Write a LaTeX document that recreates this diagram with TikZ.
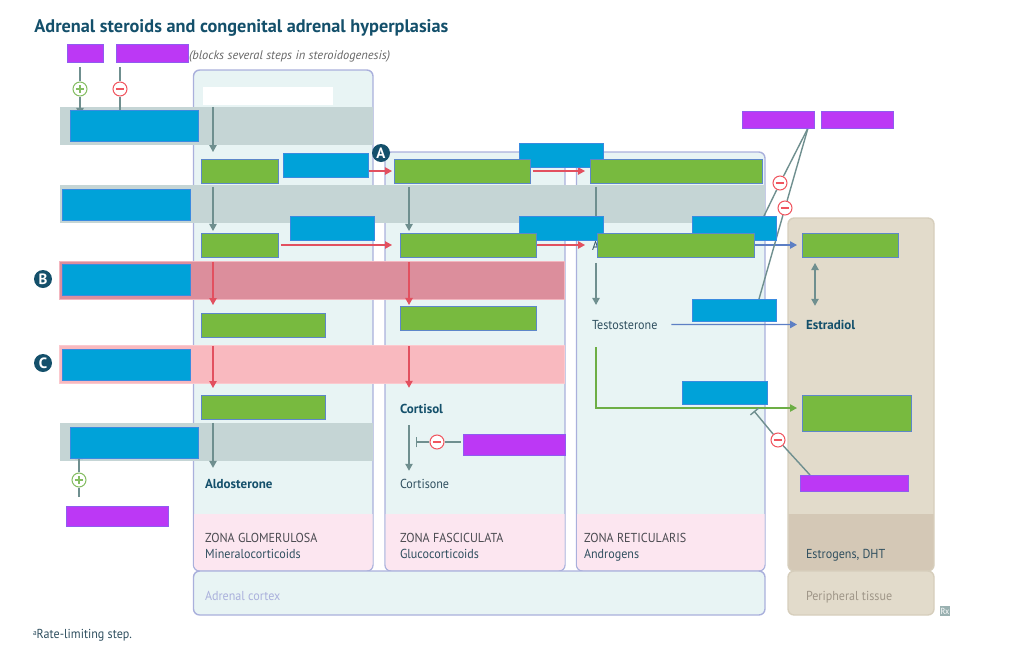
\documentclass[tikz,border=0pt]{standalone}
\usepackage{fontspec}
\setmainfont[UprightFeatures={FakeStretch=0.93}]{PT Sans}
\usetikzlibrary{arrows.meta}

\definecolor{panelfill}{HTML}{E8F4F4}
\definecolor{panelline}{HTML}{AAB0DC}
\definecolor{pinkfill}{HTML}{FCE6F0}
\definecolor{tissuefill}{HTML}{E2DBCB}
\definecolor{tissuedark}{HTML}{D4C8B6}
\definecolor{tissueline}{HTML}{D6CEBC}
\definecolor{greyband}{HTML}{C5D5D5}
\definecolor{redband}{HTML}{DC8E9C}
\definecolor{redbandline}{HTML}{F3B6BF}
\definecolor{pinkband}{HTML}{F9B9BF}
\definecolor{pinkbandline}{HTML}{FBC9CE}
\definecolor{bluefill}{HTML}{00A2D9}
\definecolor{blueline}{HTML}{3A8BE0}
\definecolor{greenfill}{HTML}{78BA3F}
\definecolor{greenline}{HTML}{5D87C9}
\definecolor{purplefill}{HTML}{BC38F5}
\definecolor{purpleline}{HTML}{8F5CF0}
\definecolor{darkteal}{HTML}{14506B}
\definecolor{linegrey}{HTML}{6F8F8F}
\definecolor{linered}{HTML}{E2505F}
\definecolor{lineblue}{HTML}{5D7FC4}
\definecolor{linegreen}{HTML}{6DAE45}
\definecolor{signred}{HTML}{F0555F}
\definecolor{signgreen}{HTML}{84BD62}
\definecolor{textdark}{HTML}{2F4F5F}
\definecolor{textzone}{HTML}{4A4A50}

\pgfdeclarelayer{back}
\pgfdeclarelayer{mid}
\pgfsetlayers{back,mid,main}

\tikzset{
	boxsize/.style 2 args={minimum width=#1*0.02cm,minimum height=#2*0.02cm},
	gap/.style 2 args={shorten <=#1*0.567pt,shorten >=#2*0.567pt},
	plainbox/.style={rectangle,anchor=north west,inner sep=0pt,outer sep=0pt,line width=0.4pt},
	greenbox/.style={plainbox,fill=greenfill,draw=greenline},
	bluebox/.style={plainbox,fill=bluefill,draw=blueline},
	purplebox/.style={plainbox,fill=purplefill,draw=purpleline},
	txt/.style={anchor=base west,inner sep=0pt,outer sep=0pt,font=\fontsize{7.4}{9}\selectfont,text=textdark},
	txtbold/.style={txt,font=\fontsize{7.4}{9}\selectfont\bfseries,text=darkteal},
	zone/.style={txt,text=textzone},
	badge/.style={circle,fill=darkteal,text=white,inner sep=0pt,minimum size=18*0.02cm,font=\fontsize{8.5}{9}\selectfont\bfseries},
	panel/.style={draw=panelline,line width=0.8pt,fill=panelfill,rounded corners=3.5pt},
	tissue/.style={draw=tissueline,line width=0.8pt,fill=tissuefill,rounded corners=3.5pt},
	greyarrow/.style={draw=linegrey,line width=0.8pt,-{Triangle[length=4pt,width=4.2pt]}},
	greyline/.style={draw=linegrey,line width=0.8pt},
	greybar/.style={draw=linegrey,line width=0.8pt,-{Bar[width=6pt,line width=0.8pt]}},
	redarrow/.style={draw=linered,line width=0.8pt,-{Triangle[length=4pt,width=4.2pt]}},
	bluearrow/.style={draw=lineblue,line width=0.8pt,-{Triangle[length=4pt,width=4.2pt]}},
	greenarrow/.style={draw=linegreen,line width=0.8pt,-{Triangle[length=4pt,width=4.2pt]}},
	signbox/.style={circle,fill=white,line width=0.6pt,inner sep=0pt,minimum size=14*0.02cm},
	minussign/.style={signbox,draw=signred,path picture={
		\draw[signred,line width=0.9pt] ([xshift=-2.4pt]path picture bounding box.center) -- ([xshift=2.4pt]path picture bounding box.center);}},
	plussign/.style={signbox,draw=signgreen,path picture={
		\draw[signgreen,line width=0.8pt] ([xshift=-2.4pt]path picture bounding box.center) -- ([xshift=2.4pt]path picture bounding box.center);
		\draw[signgreen,line width=0.8pt] ([yshift=-2.4pt]path picture bounding box.center) -- ([yshift=2.4pt]path picture bounding box.center);}}
}

\begin{document}
\begin{tikzpicture}[x=0.02cm,y=-0.02cm]
	\useasboundingbox (0,0) rectangle (1024,653);

	\begin{pgfonlayer}{back}
		% Zona glomerulosa
		\draw[panel] (193.5,70) rectangle (373,571);
		\fill[pinkfill,rounded corners=3.5pt] (194,514) [sharp corners] -- (372.5,514) [rounded corners=3.5pt] -- (372.5,570.5) -- (194,570.5) [sharp corners] -- cycle;
		% Zona fasciculata
		\draw[panel] (385,152) rectangle (565,571);
		\fill[pinkfill,rounded corners=3.5pt] (385.5,514) [sharp corners] -- (564.5,514) [rounded corners=3.5pt] -- (564.5,570.5) -- (385.5,570.5) [sharp corners] -- cycle;
		% Zona reticularis
		\draw[panel] (576.5,152) rectangle (765,571);
		\fill[pinkfill,rounded corners=3.5pt] (577,514) [sharp corners] -- (764.5,514) [rounded corners=3.5pt] -- (764.5,570.5) -- (577,570.5) [sharp corners] -- cycle;
		% Adrenal cortex
		\draw[panel] (193.5,571) rectangle (765,615);
		% Peripheral tissue
		\draw[tissue] (788,218) rectangle (934,571);
		\fill[tissuedark,rounded corners=3.5pt] (788.5,514) [sharp corners] -- (933.5,514) [rounded corners=3.5pt] -- (933.5,570.5) -- (788.5,570.5) [sharp corners] -- cycle;
		\draw[tissue] (788,571) rectangle (934,615);

		% Bands
		\fill[greyband] (59.5,107) rectangle (373,145);
		\fill[greyband] (59.5,185) rectangle (765,223);
		\draw[fill=redband,draw=redbandline,line width=0.4pt] (59.5,261) rectangle (564.5,299);
		\draw[fill=pinkband,draw=pinkbandline,line width=0.4pt] (59.5,345) rectangle (564.5,383);
		\fill[greyband] (59.5,423) rectangle (373,461);
	\end{pgfonlayer}

	% Columns of the vertical steps
	\coordinate (colA) at (213,0);
	\coordinate (colB) at (409,0);
	\coordinate (colC) at (596,0);
	\coordinate (colD) at (815,0);
	\coordinate (colP) at (80,0);
	\coordinate (colM) at (120,0);

	% Hidden white label
	\node[plainbox,fill=white,boxsize={130}{18}] (blank) at (203,87) {};

	% Text under the green box
	\node[txt] (cutA) at (592,250) {A};

	% Purple boxes
	\node[purplebox,boxsize={36}{18}] (purpleA) at (67,44) {};
	\node[purplebox,boxsize={72}{18}] (purpleB) at (116,44) {};
	\node[purplebox,boxsize={72}{17}] (purpleC) at (742,111) {};
	\node[purplebox,boxsize={72}{17}] (purpleD) at (821,111) {};
	\node[purplebox,boxsize={102}{20}] (purpleE) at (66,506) {};
	\node[purplebox,boxsize={102}{21}] (purpleF) at (463,434) {};
	\node[purplebox,boxsize={108}{16}] (purpleG) at (800,475) {};

	% Blue boxes
	\node[bluebox,boxsize={128}{31}] (blueA) at (70,110) {};
	\node[bluebox,boxsize={128}{31}] (blueB) at (62,189) {};
	\node[bluebox,boxsize={128}{31}] (blueC) at (62,264) {};
	\node[bluebox,boxsize={128}{31}] (blueD) at (62,349) {};
	\node[bluebox,boxsize={128}{31}] (blueE) at (70,427) {};
	\node[bluebox,boxsize={85}{24}] (blueF) at (283,153) {};
	\node[bluebox,boxsize={84}{24}] (blueG) at (290,216) {};
	\node[bluebox,boxsize={84}{24}] (blueH) at (519,143) {};
	\node[bluebox,boxsize={84}{24}] (blueI) at (519,216) {};
	\node[bluebox,boxsize={84}{24}] (blueJ) at (692,216) {};
	\node[bluebox,boxsize={84}{22}] (blueK) at (692,299) {};
	\node[bluebox,boxsize={85}{23}] (blueL) at (682,381) {};

	% Green boxes
	\node[greenbox,boxsize={77}{24}] (greenA) at (201,159) {};
	\node[greenbox,boxsize={136}{24}] (greenB) at (394,159) {};
	\node[greenbox,boxsize={172}{24}] (greenC) at (590,159) {};
	\node[greenbox,boxsize={77}{24}] (greenD) at (201,233) {};
	\node[greenbox,boxsize={136}{24}] (greenE) at (400,233) {};
	\node[greenbox,boxsize={157}{24}] (greenF) at (597,233) {};
	\node[greenbox,boxsize={96}{24}] (greenG) at (802,233) {};
	\node[greenbox,boxsize={124}{24}] (greenH) at (201,313) {};
	\node[greenbox,boxsize={136}{24}] (greenI) at (400,306) {};
	\node[greenbox,boxsize={124}{24}] (greenJ) at (201,395) {};
	\node[greenbox,boxsize={109}{36}] (greenK) at (802,395) {};

	% Texts
	\node[anchor=base west,inner sep=0pt,font=\fontsize{10.4}{12}\selectfont\bfseries,text=darkteal] (title) at (34,32) {Adrenal steroids and congenital adrenal hyperplasias};
	\node[txt,font=\fontsize{7.1}{9}\selectfont\itshape,text=black!60] (blocks) at (189,59) {(blocks several steps in steroidogenesis)};
	\node[txt] (testo) at (592,329) {Testosterone};
	\node[txtbold] (estra) at (806,329) {Estradiol};
	\node[txtbold] (aldo) at (205,488) {Aldosterone};
	\node[txtbold] (corti) at (400,413) {Cortisol};
	\node[txt] (cortison) at (400,488) {Cortisone};
	\node[zone] (zoneA) at (205,542) {ZONA GLOMERULOSA};
	\node[txt] (mineral) at (205,558) {Mineralocorticoids};
	\node[zone] (zoneB) at (400,542) {ZONA FASCICULATA};
	\node[txt] (gluco) at (400,558) {Glucocorticoids};
	\node[zone] (zoneC) at (584,542) {ZONA RETICULARIS};
	\node[txt] (andro) at (584,558) {Androgens};
	\node[txt] (estro) at (806,558) {Estrogens, DHT};
	\node[txt,text=panelline] (cortex) at (205,600) {Adrenal cortex};
	\node[txt,text=black!25!tissuedark] (periph) at (806,600) {Peripheral tissue};
	\node[txt] (footnote) at (33,638) {\raisebox{1.5pt}{\fontsize{4.5}{5}\selectfont a}Rate-limiting step.};
	\node[fill=linegrey!70,text=white,inner sep=0pt,minimum size=10*0.02cm,font=\fontsize{5}{5}\selectfont] (rx) at (945,611) {Rx};

	% Badges
	\node[badge] (badgeA) at (381,153) {A};
	\node[badge] (badgeB) at (43,279) {B};
	\node[badge] (badgeC) at (43,363) {C};

	% Signs
	\node[plussign] (plusA) at (80,89) {};
	\node[minussign] (minusA) at (120,89) {};
	\node[plussign] (plusB) at (79,480) {};
	\node[minussign] (minusB) at (437,442) {};
	\node[minussign] (minusC) at (780,183) {};
	\node[minussign] (minusD) at (785,208) {};
	\node[minussign] (minusE) at (778,440) {};

	% Free ends
	\coordinate (fromPurple) at (808,128);
	\coordinate (toBlueJ) at (764,216);
	\coordinate (toBlueK) at (759,299);
	\coordinate (fromPurpleG) at (810,475);
	\coordinate (barArrow) at (754,411);
	\coordinate (barCortisol) at (416,442);
	\coordinate (intoGreenK) at (802,408);
	\coordinate (colE) at (79,0);

	\begin{pgfonlayer}{mid}
		% Left column
		\draw[greyarrow,gap={2}{7}] (blank.south -| colA) -- (greenA.north -| colA);
		\draw[greyarrow,gap={4}{2}] (greenA.south -| colA) -- (greenD.north -| colA);
		\draw[redarrow,gap={5}{8}] (greenD.south -| colA) -- (greenH.north -| colA);
		\draw[redarrow,gap={9}{7}] (greenH.south -| colA) -- (greenJ.north -| colA);
		\draw[greyarrow,gap={4}{11}] (greenJ.south -| colA) -- (aldo.north -| colA);

		% Middle column
		\draw[greyarrow,gap={4}{2}] (greenB.south -| colB) -- (greenE.north -| colB);
		\draw[redarrow,gap={5}{1}] (greenE.south -| colB) -- (greenI.north -| colB);
		\draw[redarrow,gap={16}{16}] (greenI.south -| colB) -- (corti.north -| colB);
		\draw[greyarrow,gap={12}{8}] (corti.south -| colB) -- (cortison.north -| colB);

		% Right column
		\draw[greyarrow,gap={4}{2}] (greenC.south -| colC) -- (greenF.north -| colC);
		\draw[greyarrow,gap={6}{15}] (greenF.south -| colC) -- (testo.north -| colC);
		\draw[greenarrow,gap={18}{5}] (testo.south -| colC) |- (intoGreenK);

		% Across the zones
		\draw[redarrow,gap={5}{2}] (greenA.east) -- (greenB.west);
		\draw[redarrow,gap={3}{5}] (greenB.east) -- (greenC.west);
		\draw[redarrow,gap={3}{8}] (greenD.east) -- (greenE.west);
		\draw[redarrow,gap={0}{12}] (greenE.east) -- (greenF.west);
		\draw[bluearrow,gap={0}{5}] (greenF.east) -- (greenG.west);
		\draw[bluearrow,gap={14}{9}] (testo.east) -- (estra.west);
		\draw[greyarrow,{Triangle[length=4pt,width=4.2pt]}-{Triangle[length=4pt,width=4.2pt]},gap={6}{14}] (greenG.south -| colD) -- (estra.north -| colD);

		% Regulators on the left
		\draw[greyline,gap={5}{0}] (purpleA.south -| colP) -- (plusA);
		\draw[greyarrow,gap={0}{-5}] (plusA) -- (blueA.north -| colP);
		\draw[greyline,gap={5}{0}] (purpleB.south -| colM) -- (minusA);
		\draw[greyline] (minusA) -- (blueA.north -| colM);
		\draw[greyline,gap={9}{0}] (purpleE.north -| colE) -- (plusB);
		\draw[greyarrow,gap={0}{-6}] (plusB) -- (blueE.south -| colE);
		\draw[greyline,gap={2}{0}] (purpleF.west |- minusB) -- (minusB);
		\draw[greybar] (minusB) -- (barCortisol);

		% Regulators on the right
		\draw[greyline] (fromPurple) -- (minusC) -- (toBlueJ);
		\draw[greyline] (fromPurple) -- (minusD) -- (toBlueK);
		\draw[greyline] (fromPurpleG) -- (minusE);
		\draw[greybar] (minusE) -- (barArrow);
	\end{pgfonlayer}
\end{tikzpicture}
\end{document}
